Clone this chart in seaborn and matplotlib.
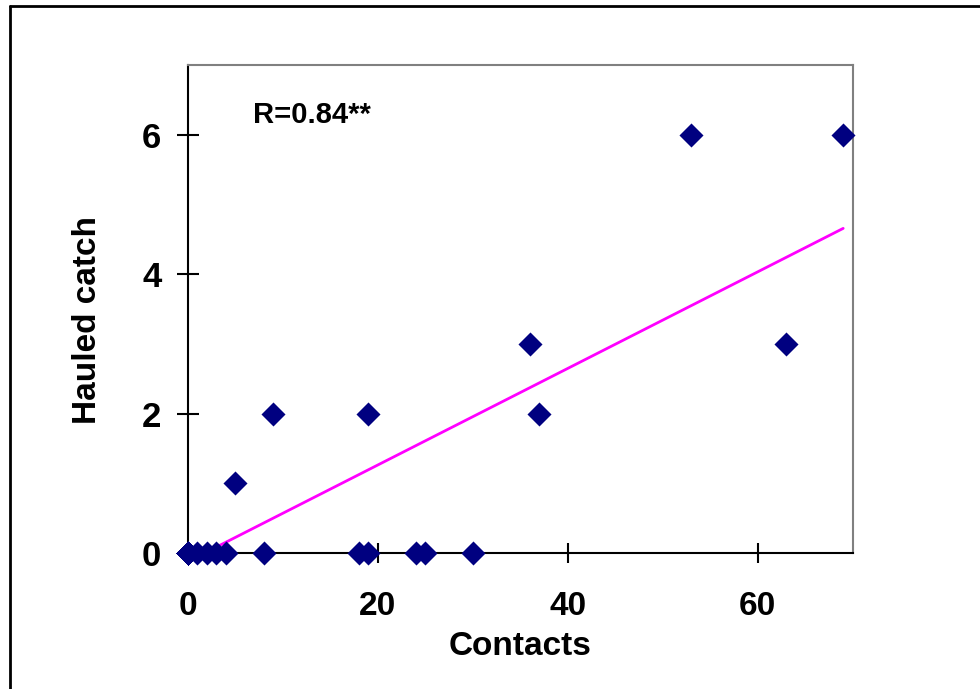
import numpy as np
import pandas as pd
import matplotlib
matplotlib.use('Agg')
import matplotlib.pyplot as plt
import seaborn as sns
from matplotlib.lines import Line2D

sns.set_style('white')
plt.rcParams['font.family'] = ['Liberation Sans', 'DejaVu Sans']
plt.rcParams['font.weight'] = 'bold'
plt.rcParams['text.color'] = 'black'
plt.rcParams['axes.labelcolor'] = 'black'
plt.rcParams['xtick.color'] = 'black'
plt.rcParams['ytick.color'] = 'black'

# Data (extra zeros at x=0 are overlapping points hidden in the cluster)
contacts = [0, 0, 0, 0, 0, 0, 0, 0, 0, 0, 0, 0, 0, 0, 0, 0, 0, 0,
            1, 2, 3, 4, 8, 18, 19, 24, 25, 30,
            5, 9, 19, 36, 37, 53, 63, 69]
hauled_catch = [0, 0, 0, 0, 0, 0, 0, 0, 0, 0, 0, 0, 0, 0, 0, 0, 0, 0,
                0, 0, 0, 0, 0, 0, 0, 0, 0, 0,
                1, 2, 2, 3, 2, 6, 3, 6]
r_label = 'R=0.84**'
x_ticks = [0, 20, 40, 60]
y_ticks = [0, 2, 4, 6]

df = pd.DataFrame({'Contacts': contacts, 'Hauled catch': hauled_catch})

fig = plt.figure(figsize=(9.8, 6.89), dpi=100)
ax = fig.add_axes([187.7 / 980, 136 / 689, 665 / 980, 487.7 / 689])

# Trend line
sns.regplot(x='Contacts', y='Hauled catch', data=df, scatter=False, ci=None,
            truncate=True, color='#FF00FF', line_kws={'linewidth': 2, 'clip_on': False, 'zorder': 2},
            ax=ax)

# Points
sns.scatterplot(x='Contacts', y='Hauled catch', data=df, marker='D', s=150,
                color='#000080', edgecolor='#000080', linewidth=0, clip_on=False,
                zorder=3, ax=ax)

ax.set_xlim(0, 70)
ax.set_ylim(0, 7)
ax.set_xticks(x_ticks)
ax.set_yticks(y_ticks)

for side in ['left', 'bottom']:
    ax.spines[side].set_color('black')
    ax.spines[side].set_linewidth(1.5)
for side in ['top', 'right']:
    ax.spines[side].set_color('#808080')
    ax.spines[side].set_linewidth(1.5)
    ax.spines[side].set_visible(True)

ax.tick_params(axis='x', bottom=True, direction='inout', length=15, width=1.5,
               color='black', labelcolor='black', pad=20, labelsize=24)
ax.tick_params(axis='y', left=True, direction='inout', length=16, width=1.5,
               color='black', labelcolor='black', pad=11, labelsize=25)
for lbl in ax.get_xticklabels() + ax.get_yticklabels():
    lbl.set_fontweight('bold')

ax.set_xlabel('Contacts', fontsize=24, fontweight='bold', color='black', labelpad=6)
ax.set_ylabel('Hauled catch', fontsize=24, fontweight='bold', color='black')
ax.yaxis.set_label_coords(-0.128, 0.478)

ax.text(6.9, 6.17, r_label, fontsize=21, fontweight='bold', color='black',
        ha='left', va='baseline')

# Outer frame (top and left edges visible)
fig.add_artist(Line2D([9.5 / 980, 9.5 / 980], [0, 1 - 6 / 689], color='black',
                      linewidth=2, transform=fig.transFigure))
fig.add_artist(Line2D([9.5 / 980, 1], [1 - 6 / 689, 1 - 6 / 689], color='black',
                      linewidth=2, transform=fig.transFigure))

fig.savefig('out.png', dpi=100)
